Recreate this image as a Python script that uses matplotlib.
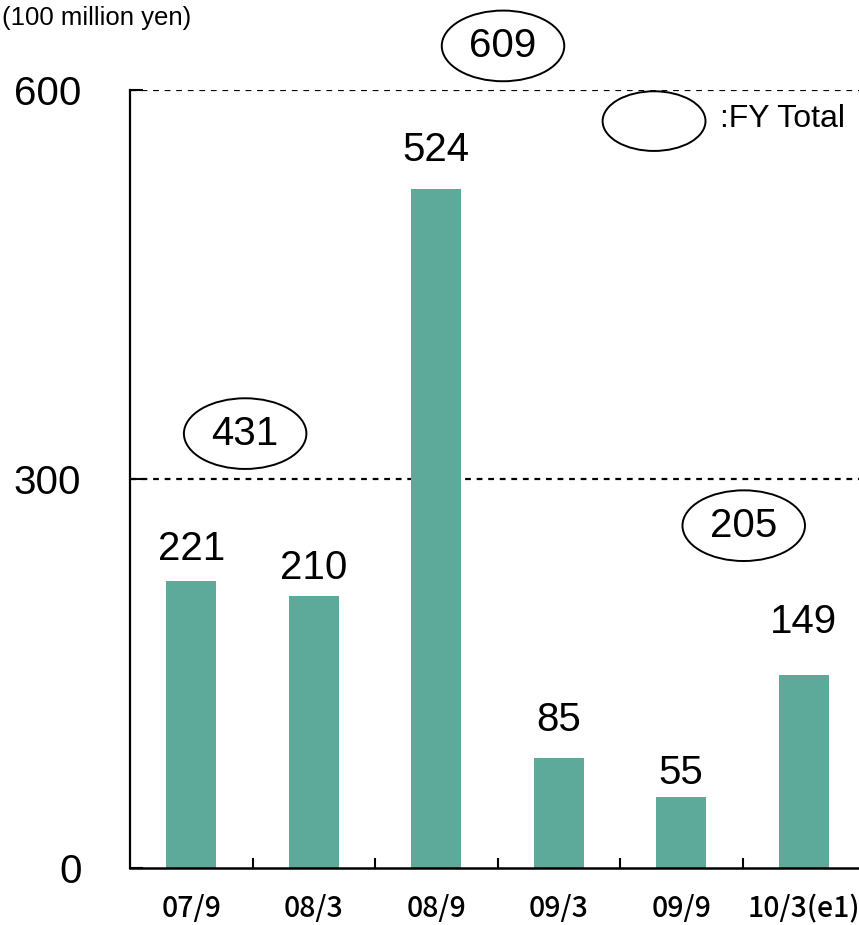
import matplotlib
matplotlib.use("Agg")
import matplotlib.pyplot as plt
from matplotlib.patches import Ellipse

categories = ["07/9", "08/3", "08/9", "09/3", "09/9", "10/3(e1)"]
values = [221, 210, 524, 85, 55, 149]
fy_totals = [431, 609, 205]
y_ticks = [0, 300, 600]
unit_label = "(100 million yen)"
legend_label = ":FY Total"

# styling / placement
bar_color = "#5DAA9B"
label_offsets_px = [32.5, 27.5, 38.5, 38, 24, 53]
total_pos = [(0.44, 335), (2.545, 634), (4.51, 264)]  # (x, y) centers of total ellipses
ell_w, ell_h = 1.0, 54.5
NUM_FONT = "Liberation Sans"

W, H = 859, 925
fig = plt.figure(figsize=(W / 100, H / 100), dpi=100)
ax_left, ax_right, ax_top, ax_bot = 130, 865, 90, 868
ax = fig.add_axes([ax_left / W, 1 - ax_bot / H, (ax_right - ax_left) / W, (ax_bot - ax_top) / H])

x = list(range(len(categories)))
bars = ax.bar(x, values, width=0.41, color=bar_color, zorder=2)
ax.set_xlim(-0.5, len(categories) - 0.5)
ax.set_ylim(0, 600)

for yv in (300, 600):
    ax.axhline(yv, color="black", lw=1.6, ls=(0, (2.6, 2.6)), zorder=1)

for spine in ("top", "right"):
    ax.spines[spine].set_visible(False)
ax.spines["left"].set_linewidth(1.6)
ax.spines["bottom"].set_linewidth(1.8)

ax.set_yticks(y_ticks)
ax.set_yticklabels([str(t) for t in y_ticks], fontsize=29, family=NUM_FONT)
ax.tick_params(axis="y", direction="in", length=9, width=1.5, pad=35)

ax.set_xticks(x)
ax.set_xticklabels(categories, fontsize=20.5, fontweight="medium",
                   family=["Noto Sans CJK JP", "DejaVu Sans"])
ax.tick_params(axis="x", which="major", length=0, pad=19)
ax.set_xticks([i + 0.5 for i in x[:-1]], minor=True)
ax.tick_params(axis="x", which="minor", direction="in", length=7, width=1.5)

for xi, v, off in zip(x, values, label_offsets_px):
    ax.annotate(str(v), (xi, v), xytext=(0, off * 0.72), textcoords="offset points",
                ha="center", va="center", fontsize=29, family=NUM_FONT)

for (cx, cy), t in zip(total_pos, fy_totals):
    ax.add_patch(Ellipse((cx, cy), ell_w, ell_h, fill=False, ec="black", lw=1.4, clip_on=False, zorder=3))
    ax.text(cx, cy, str(t), ha="center", va="center", fontsize=29, family=NUM_FONT, clip_on=False)

# legend
ax.add_patch(Ellipse((3.778, 576), 0.84, 46, fill=False, ec="black", lw=1.4, clip_on=False, zorder=3))
ax.text(4.316, 578, legend_label, ha="left", va="center", fontsize=23, family=NUM_FONT)

fig.text(2 / W, 1 - 25 / H, unit_label, ha="left", va="baseline", fontsize=18.5, family=NUM_FONT)

fig.savefig("out.png", dpi=100)
